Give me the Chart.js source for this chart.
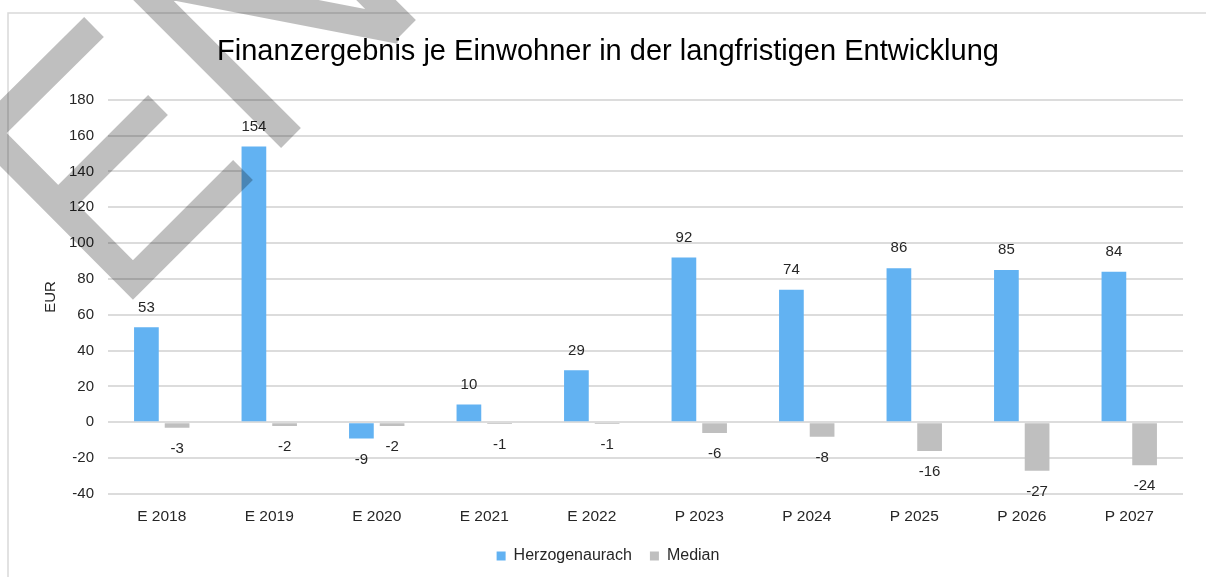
<!DOCTYPE html>
<html>
  <head>
    <meta charset="utf-8" />
    <title>Finanzergebnis je Einwohner</title>
    <script src="https://cdn.jsdelivr.net/npm/chart.js"></script>
    <style>
      html,
      body {
        margin: 0;
        padding: 0;
        background: #fff;
      }
      .chart-container {
        position: relative;
        width: 1206px;
        height: 577px;
      }
    </style>
  </head>
  <body>
    <div class="chart-container">
      <canvas id="financeChart" width="1206" height="577"></canvas>
    </div>

    <script>
      // Data
      const categories = [
        "E 2018",
        "E 2019",
        "E 2020",
        "E 2021",
        "E 2022",
        "P 2023",
        "P 2024",
        "P 2025",
        "P 2026",
        "P 2027",
      ];
      const herzogenaurach = [53, 154, -9, 10, 29, 92, 74, 86, 85, 84];
      const median = [-3, -2, -2, -1, -1, -6, -8, -16, -27, -24];
      const yMin = -40;
      const yMax = 180;
      const yStep = 20;

      const textColor = "#262626";
      const gridColor = "#dcdcdc";

      Chart.defaults.font.family = "'Liberation Sans', Arial, sans-serif";
      Chart.defaults.font.size = 15;
      Chart.defaults.color = textColor;

      // white background + the light frame around the chart
      const framePlugin = {
        id: "frame",
        beforeDraw(chart) {
          const ctx = chart.ctx;
          ctx.save();
          ctx.fillStyle = "#fff";
          ctx.fillRect(0, 0, chart.width, chart.height);
          ctx.strokeStyle = "#d9d9d9";
          ctx.lineWidth = 1.5;
          ctx.beginPath();
          ctx.moveTo(8, chart.height);
          ctx.lineTo(8, 13);
          ctx.lineTo(chart.width, 13);
          ctx.stroke();
          ctx.restore();
        },
      };

      // value labels outside the bar ends
      const valueLabels = {
        id: "valueLabels",
        afterDatasetsDraw(chart) {
          const ctx = chart.ctx;
          ctx.save();
          ctx.font = "15px 'Liberation Sans', Arial, sans-serif";
          ctx.fillStyle = textColor;
          ctx.textAlign = "center";
          ctx.textBaseline = "middle";
          chart.data.datasets.forEach((ds, i) => {
            const meta = chart.getDatasetMeta(i);
            meta.data.forEach((bar, j) => {
              const v = ds.data[j];
              const y = v >= 0 ? bar.y - 20 : bar.y + 21;
              ctx.fillText(String(v), bar.x, y);
            });
          });
          ctx.restore();
        },
      };

      // grey "ENTWURF"-style watermark strokes on top of everything
      const watermark = {
        id: "watermark",
        afterDraw(chart) {
          const ctx = chart.ctx;
          ctx.save();
          ctx.strokeStyle = "rgba(0, 0, 0, 0.25)";
          ctx.lineWidth = 28;
          ctx.lineCap = "butt";
          ctx.lineJoin = "miter";
          ctx.beginPath();
          // E
          ctx.moveTo(94, 27);
          ctx.lineTo(-13, 133);
          ctx.lineTo(133, 280);
          ctx.lineTo(243, 170);
          ctx.moveTo(158, 105);
          ctx.lineTo(58, 205);
          // N
          ctx.moveTo(291, 138);
          ctx.lineTo(131, -22);
          ctx.lineTo(400, 30);
          ctx.moveTo(406, 30);
          ctx.lineTo(340, -36);
          ctx.stroke();
          ctx.restore();
        },
      };

      const ctx = document.getElementById("financeChart").getContext("2d");
      const chart = new Chart(ctx, {
        type: "bar",
        data: {
          labels: categories,
          datasets: [
            {
              label: "Herzogenaurach",
              data: herzogenaurach,
              backgroundColor: "#62B2F2",
              categoryPercentage: 0.571,
              barPercentage: 0.805,
            },
            {
              label: "Median",
              data: median,
              backgroundColor: "#BFBFBF",
              categoryPercentage: 0.571,
              barPercentage: 0.805,
            },
          ],
        },
        options: {
          responsive: false,
          animation: false,
          devicePixelRatio: 1,
          layout: {
            padding: { top: 0, left: 33, right: 23, bottom: 3 },
          },
          plugins: {
            title: {
              display: true,
              text: "Finanzergebnis je Einwohner in der langfristigen Entwicklung",
              color: "#000",
              font: { size: 29, weight: "normal" },
              padding: { top: 35, bottom: 30 },
            },
            legend: {
              position: "bottom",
              labels: {
                boxWidth: 9,
                boxHeight: 9,
                padding: 18,
                color: textColor,
                font: { size: 16 },
              },
            },
            tooltip: { enabled: false },
          },
          scales: {
            x: {
              grid: { display: false },
              border: { display: false },
              ticks: { padding: 5, color: textColor, font: { size: 15.5 } },
              afterFit(scale) {
                scale.height = 36;
              },
            },
            y: {
              min: yMin,
              max: yMax,
              ticks: { stepSize: yStep, padding: 14, color: textColor },
              grid: { color: gridColor, lineWidth: 2, drawTicks: false },
              border: { display: false },
              title: {
                display: true,
                text: "EUR",
                color: textColor,
                font: { size: 15 },
                padding: { top: 9, bottom: 0 },
              },
              afterFit(scale) {
                scale.width = 75;
              },
            },
          },
        },
        plugins: [framePlugin, valueLabels, watermark],
      });
    </script>
  </body>
</html>
